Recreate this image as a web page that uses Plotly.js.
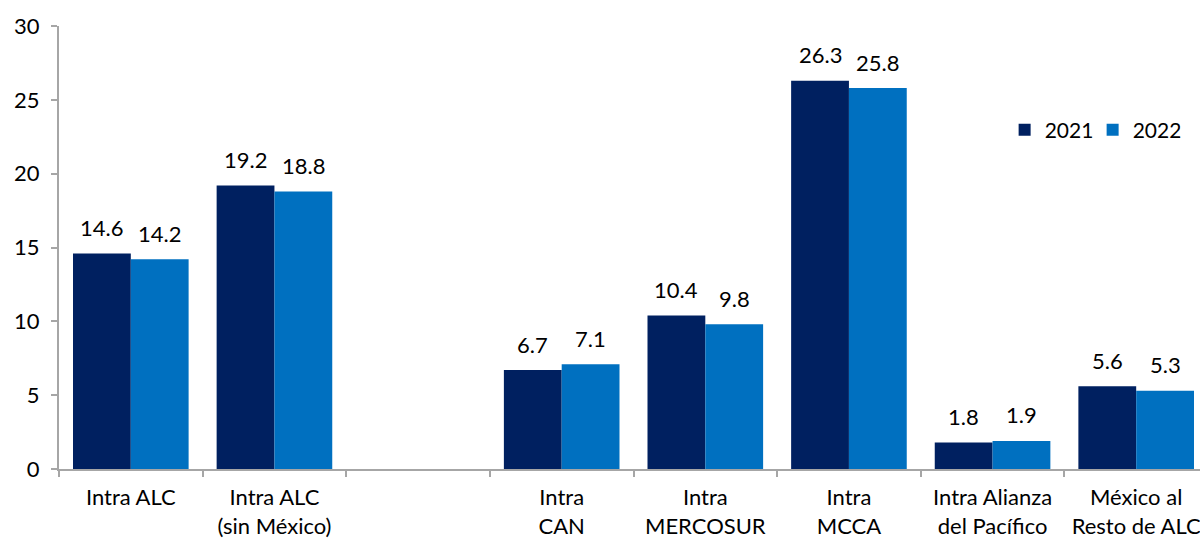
<!DOCTYPE html>
<html><head><meta charset="utf-8">
<script src="https://cdn.plot.ly/plotly-3.0.1.min.js"></script>
<style>html,body{margin:0;background:#fff;overflow:hidden}#chart{width:1208px;height:538px}</style>
</head><body><div id="chart"></div>
<script>
const categories = ["Intra ALC", "Intra ALC<br>(sin México)", " ", "Intra<br>CAN", "Intra<br>MERCOSUR", "Intra<br>MCCA", "Intra Alianza<br>del Pacífico", "México al<br>Resto de ALC"];
const values2021 = [14.6, 19.2, null, 6.7, 10.4, 26.3, 1.8, 5.6];
const values2022 = [14.2, 18.8, null, 7.1, 9.8, 25.8, 1.9, 5.3];
const seriesNames = ["2021", "2022"];
const fontFam = "Lato, 'Open Sans', sans-serif";
function mk(name, vals, color){
  return {type:'bar', name:name, x:categories, y:vals, marker:{color:color}, hoverinfo:'skip'};
}
const data = [mk(seriesNames[0], values2021, '#002060'), mk(seriesNames[1], values2022, '#0070C0')];
const annotations = [];
[[values2021, -28.9], [values2022, 28.9]].forEach(([vals, dx]) => {
  vals.forEach((v, i) => {
    if (v == null) return;
    annotations.push({x: categories[i], y: v, xref:'x', yref:'y', text: v.toFixed(1), showarrow:false,
      xshift: dx, yshift: 26, font:{size:22, color:'#000', family:fontFam}});
  });
});
const layout = {
  width:1208, height:538, margin:{l:59, r:0, t:26, b:69, autoexpand:false},
  paper_bgcolor:'#fff', plot_bgcolor:'#fff',
  font:{family:fontFam, size:22, color:'#000'},
  barmode:'group', bargap:0.195, bargroupgap:0,
  showlegend:true, annotations: annotations,
  legend:{orientation:'h', x:0.823, y:0.765, xanchor:'left', yanchor:'middle', font:{size:21}, traceorder:'normal',
    entrywidth:43, entrywidthmode:'pixels', itemwidth:30},
  xaxis:{type:'category', categoryorder:'array', categoryarray:categories, showline:true, linecolor:'#a6a6a6', linewidth:2, automargin:false,
    ticks:'outside', tickson:'boundaries', ticklen:6, tickcolor:'#a6a6a6', tickwidth:2, showgrid:false, tickfont:{size:22}, zeroline:false, ticklabelstandoff:8},
  yaxis:{range:[0,30], dtick:5, showline:true, linecolor:'#a6a6a6', linewidth:2, ticks:'outside', ticklen:6, tickcolor:'#a6a6a6', tickwidth:2, automargin:false,
    showgrid:false, zeroline:false, tickfont:{size:22}, ticklabelstandoff:7}
};
Plotly.newPlot('chart', data, layout, {displayModeBar:false, staticPlot:true});
</script></body></html>
